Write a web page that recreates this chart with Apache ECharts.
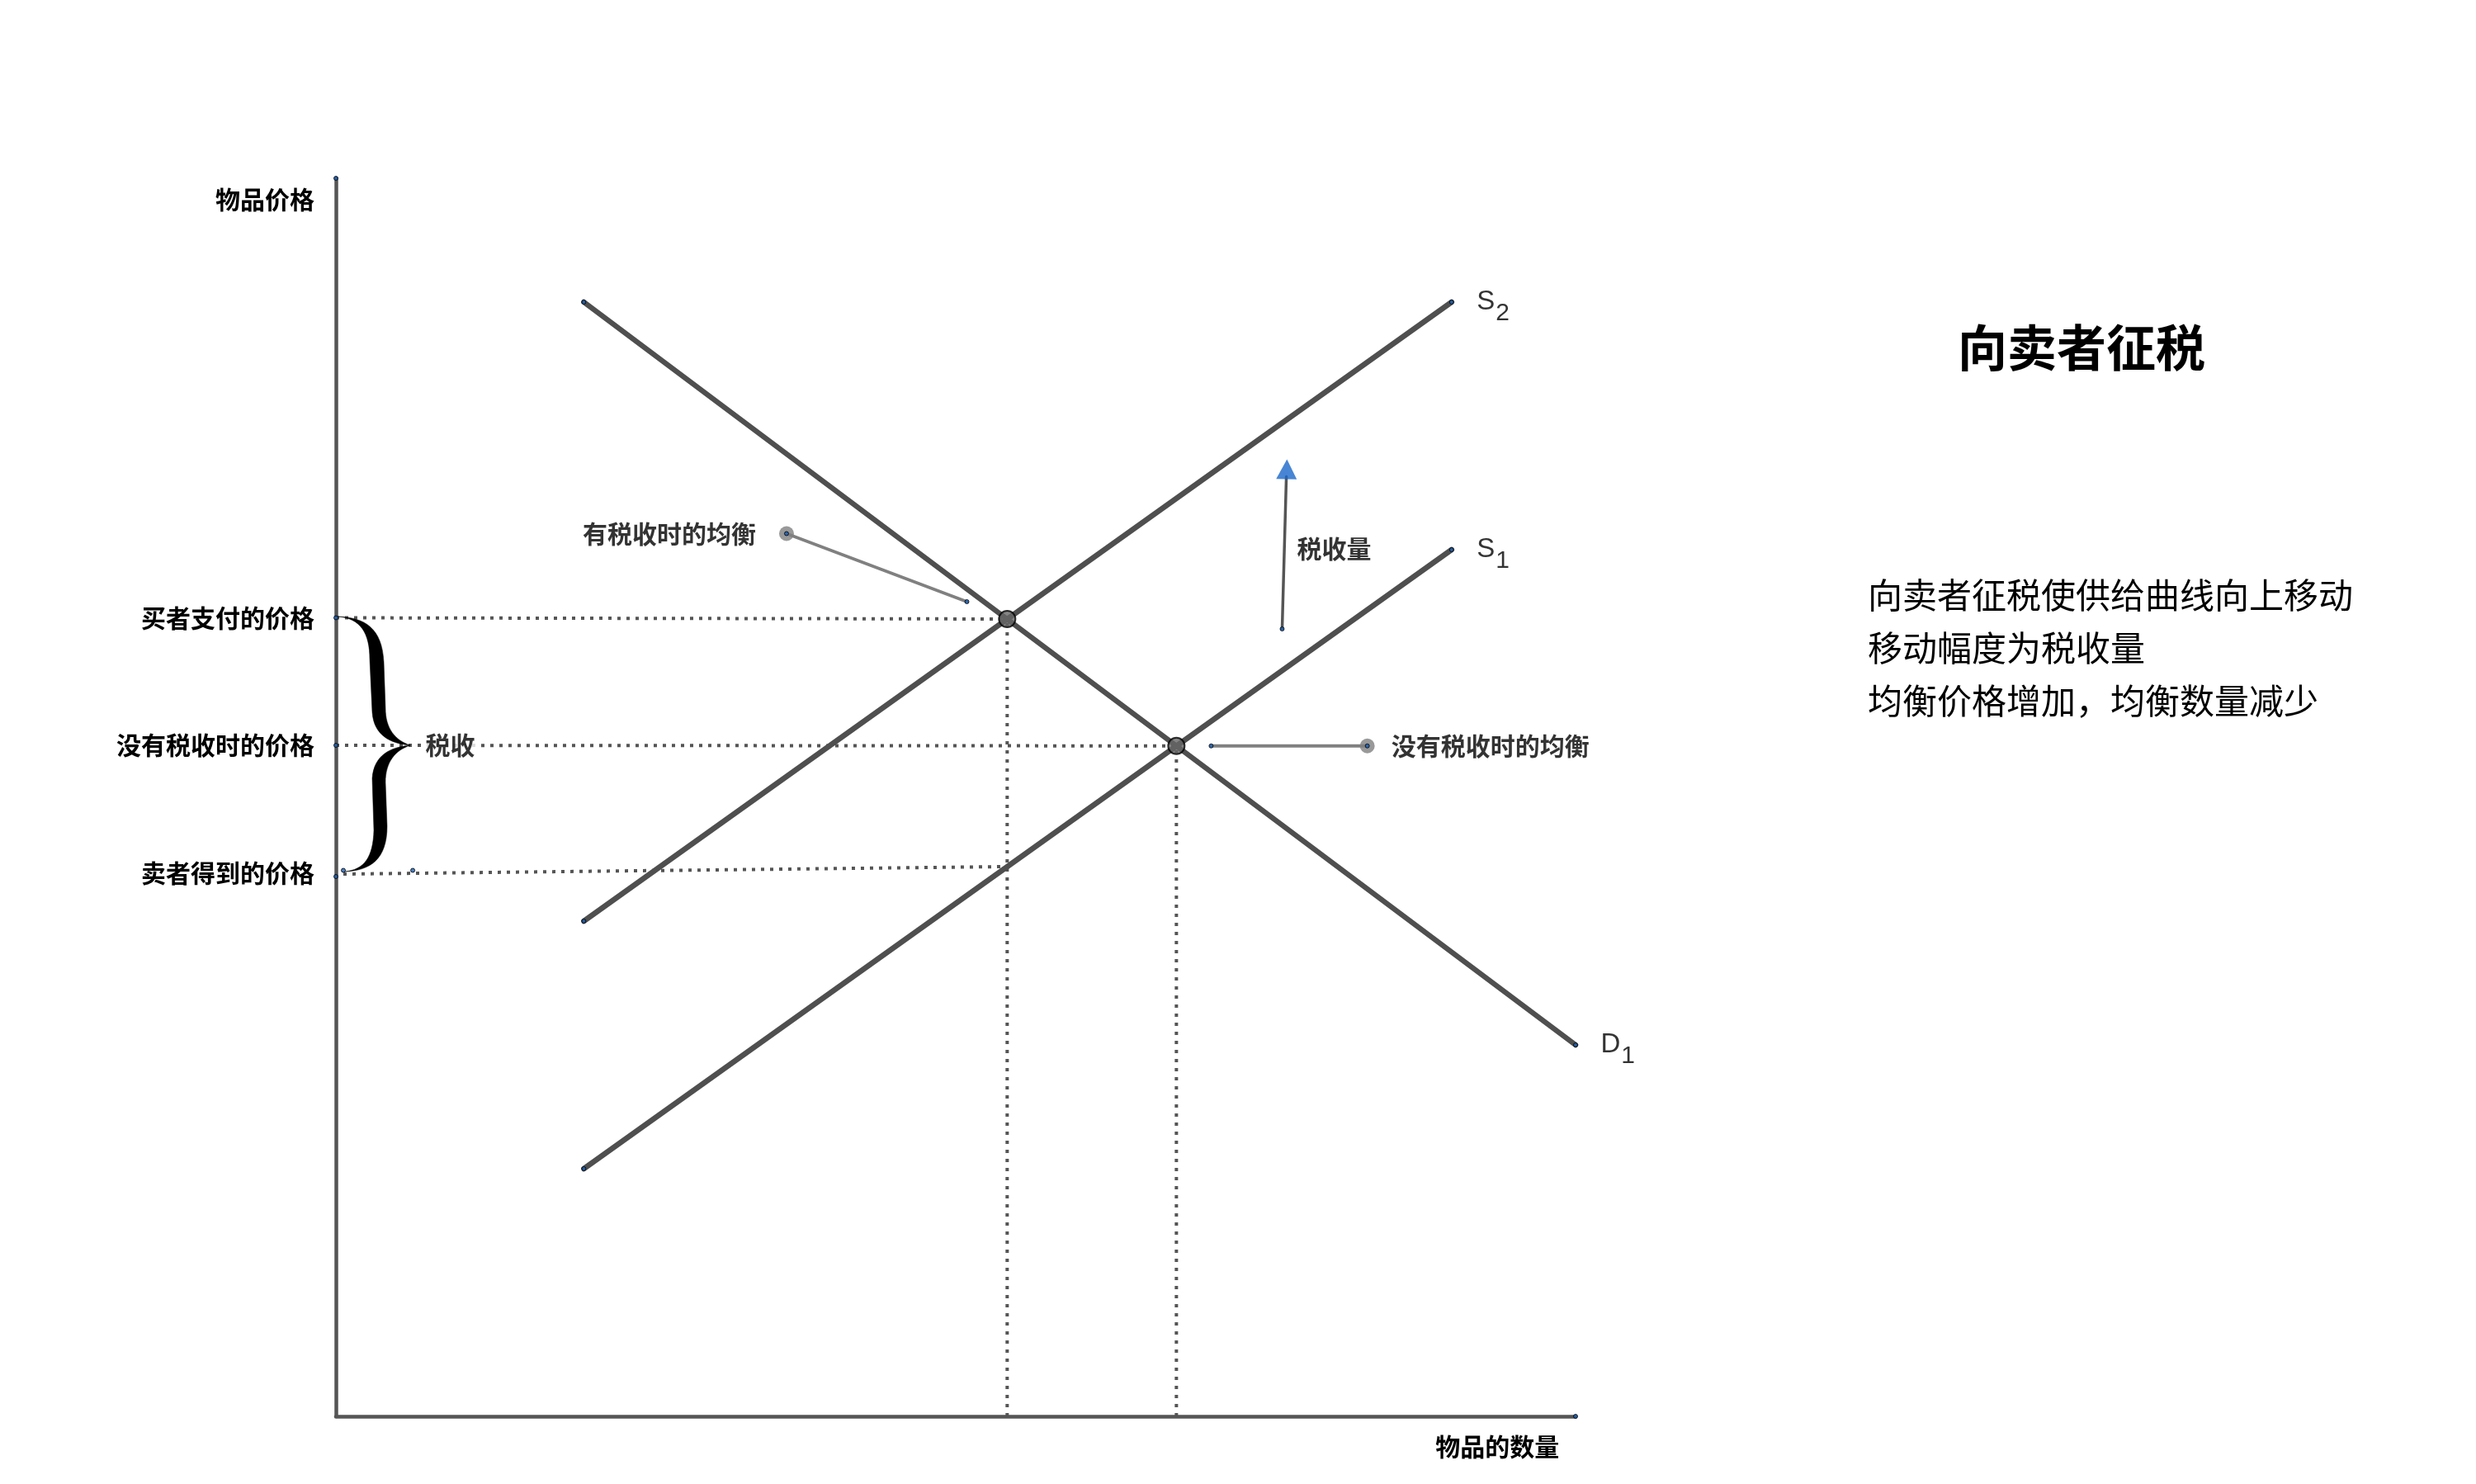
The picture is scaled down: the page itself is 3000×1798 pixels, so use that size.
<!DOCTYPE html>
<html>
<head>
<meta charset="utf-8">
<script src="https://cdn.jsdelivr.net/npm/echarts@6/dist/echarts.min.js"></script>
<style>html,body{margin:0;padding:0;background:#fff;}#c{width:3000px;height:1798px;}</style>
</head>
<body>
<div id="c"></div>
<script>
// ---- data (in chart units 0..100) ----
const demandD1 = [[20, 90], [100, 30]];
const supplyS1 = [[20, 20], [90, 70]];
const supplyS2 = [[20, 40], [90, 90]];
const eqWithTax = [54.15, 64.4];
const eqNoTax = [67.8, 54.15];
const priceTickValues = [64.5, 54.2, 43.9];
const priceTickLabels = ['买者支付的价格', '没有税收时的价格', '卖者得到的价格'];
const yAxisNameValue = 98.3;
const xAxisNameValue = 93.7;
const buyerDotted = [[0, 64.5], [54.15, 64.4]];
const noTaxDotted = [[0, 54.2], [67.8, 54.15]];
const sellerDotted = [[0.6, 43.8], [53.9, 44.4]];
const qTaxDotted = [[54.15, 0], [54.15, 64.4]];
const qNoTaxDotted = [[67.8, 0], [67.8, 54.15]];
const taxArrowShaft = [[76.33, 63.6], [76.67, 75.9]];
const taxArrowHead = [76.7, 76.5];
const taxEqCallout = [[36.35, 71.3], [50.9, 65.8]];
const noTaxEqCallout = [[70.6, 54.15], [83.2, 54.15]];
const brace = [[0, 64.6, 44.0, 6.0, 54.2]];
const endpointDots = [[20, 90], [100, 30], [20, 20], [90, 70], [20, 40], [90, 90],
  [0, 100], [100, 0], [76.33, 63.6], [50.9, 65.8], [70.6, 54.15], [36.35, 71.3], [83.2, 54.15],
  [0, 64.5], [0, 54.2], [0, 43.6], [0.6, 44.1], [6.2, 44.1]];
const curveLabels = [
  {value: [90, 90], name: 'S2'},
  {value: [90, 70], name: 'S1'},
  {value: [100, 30], name: 'D1'}
];
const titleText = '向卖者征税';
const descLines = ['向卖者征税使供给曲线向上移动', '移动幅度为税收量', '均衡价格增加，均衡数量减少'];

const FONT = '"Noto Sans CJK SC", "Noto Sans", sans-serif';
const LINE = '#4f4f4f';
const DOT = '#555555';

function seg(name, data, color, width, dash, z) {
  return {
    name, type: 'line', data, symbol: 'none', silent: true, z: z || 2,
    lineStyle: {color, width, type: dash || 'solid', cap: dash ? 'butt' : 'round'}
  };
}

const chart = echarts.init(document.getElementById('c'), null, {renderer: 'canvas'});
const option = {
  backgroundColor: '#ffffff',
  animation: false,
  grid: {left: 407, top: 216, width: 1502, height: 1500, containLabel: false},
  xAxis: {
    type: 'value', min: 0, max: 100,
    splitLine: {show: false}, axisTick: {show: false},
    axisLine: {onZero: false, lineStyle: {color: '#555', width: 4.5}},
    axisLabel: {
      customValues: [xAxisNameValue], margin: 22,
      formatter: () => '物品的数量',
      fontFamily: FONT, fontSize: 30, fontWeight: 'bold', color: '#000'
    }
  },
  yAxis: {
    type: 'value', min: 0, max: 100,
    splitLine: {show: false}, axisTick: {show: false},
    axisLine: {onZero: false, lineStyle: {color: '#555', width: 4.5}},
    axisLabel: {
      customValues: [priceTickValues[2], priceTickValues[1], priceTickValues[0], yAxisNameValue],
      margin: 26,
      formatter: (v) => {
        if (Math.abs(v - yAxisNameValue) < 0.01) return '物品价格';
        const i = priceTickValues.findIndex(p => Math.abs(p - v) < 0.01);
        return i >= 0 ? priceTickLabels[i] : '';
      },
      fontFamily: FONT, fontSize: 30, fontWeight: 'bold', color: '#000'
    }
  },
  series: [
    seg('buyerDotted', buyerDotted, DOT, 4, [4, 7], 1),
    seg('noTaxDotted', noTaxDotted, DOT, 4, [4, 7], 1),
    seg('sellerDotted', sellerDotted, DOT, 4, [4, 7], 1),
    seg('qTaxDotted', qTaxDotted, DOT, 4, [4, 7], 1),
    seg('qNoTaxDotted', qNoTaxDotted, DOT, 4, [4, 7], 1),
    seg('D1', demandD1, LINE, 6.5),
    seg('S1', supplyS1, LINE, 6.5),
    seg('S2', supplyS2, LINE, 6.5),
    seg('taxArrow', taxArrowShaft, '#555', 3.5),
    seg('taxEqCallout', taxEqCallout, '#808080', 4),
    seg('noTaxEqCallout', noTaxEqCallout, '#808080', 4),
    {
      name: 'arrowHead', type: 'scatter', data: [taxArrowHead], symbol: 'triangle',
      symbolSize: [25, 24], symbolRotate: -1.5, itemStyle: {color: '#1a66c9'}, z: 5, silent: true
    },
    {
      name: 'brace', type: 'custom', data: brace, z: 4, silent: true,
      encode: {x: [0, 3], y: [1, 2, 4]},
      renderItem: function (params, api) {
        const t = api.coord([api.value(0), api.value(1)]);
        const b = api.coord([api.value(0), api.value(2)]);
        const m = api.coord([api.value(3), api.value(4)]);
        const x0 = t[0], yT = t[1], yB = b[1], xt = m[0], yM = m[1];
        const P = (dx, y) => (x0 + dx).toFixed(1) + ',' + y.toFixed(1);
        const d =
          'M' + P(2, yT) +
          ' C' + P(30, yT + 2) + ' ' + P(41, yT + 20) + ' ' + P(41, yT + 52) +
          ' L' + P(44, yM - 40) +
          ' C' + P(46, yM - 12) + ' ' + P(66, yM - 2) + ' ' + xt.toFixed(1) + ',' + yM.toFixed(1) +
          ' C' + P(72, yM - 6) + ' ' + P(60, yM - 20) + ' ' + P(60, yM - 45) +
          ' L' + P(58, yT + 55) +
          ' C' + P(56, yT + 14) + ' ' + P(35, yT + 1) + ' ' + P(2, yT) + ' Z' +
          ' M' + xt.toFixed(1) + ',' + yM.toFixed(1) +
          ' C' + P(66, yM + 2) + ' ' + P(46, yM + 12) + ' ' + P(44, yM + 40) +
          ' L' + P(46, yB - 50) +
          ' C' + P(45, yB - 18) + ' ' + P(35, yB - 2) + ' ' + P(10, yB) +
          ' C' + P(42, yB - 1) + ' ' + P(62, yB - 15) + ' ' + P(62, yB - 55) +
          ' L' + P(60, yM + 45) +
          ' C' + P(60, yM + 20) + ' ' + P(72, yM + 6) + ' ' + xt.toFixed(1) + ',' + yM.toFixed(1) + ' Z';
        return {type: 'path', shape: {pathData: d}, style: {fill: '#000', stroke: '#000', lineWidth: 0.5}};
      }
    },
    {
      name: 'calloutDots', type: 'scatter', silent: true, z: 6,
      data: [
        {value: taxEqCallout[0], label: {show: true, position: 'left', distance: 28, formatter: '有税收时的均衡'}},
        {value: noTaxEqCallout[1], label: {show: true, position: 'right', distance: 20, formatter: '没有税收时的均衡'}}
      ],
      symbolSize: 18, itemStyle: {color: '#808080'},
      label: {fontFamily: FONT, fontSize: 30, fontWeight: 'bold', color: '#000'}
    },
    {
      name: 'textAnchors', type: 'scatter', silent: true, z: 3,
      symbolSize: 1, itemStyle: {color: 'rgba(0,0,0,0)'},
      label: {fontFamily: FONT, fontSize: 30, fontWeight: 'bold', color: '#000'},
      data: [
        {value: [6.0, 54.2], label: {show: true, position: 'right', distance: 14, formatter: '税收',
          backgroundColor: '#fff', padding: [4, 4, 4, 4]}},
        {value: [76.5, 70.1], label: {show: true, position: 'right', distance: 15, formatter: '税收量'}}
      ]
    },
    {
      name: 'curveNames', type: 'scatter', silent: true, z: 3,
      symbolSize: 1, itemStyle: {color: 'rgba(0,0,0,0)'},
      data: curveLabels.map(c => ({value: c.value, name: c.name})),
      label: {
        show: true, position: 'right', distance: 30,
        formatter: (p) => '{s|' + p.name.charAt(0) + '}{b|' + p.name.charAt(1) + '}',
        rich: {
          s: {fontFamily: 'Liberation Sans, Arial, sans-serif', fontSize: 33, lineHeight: 33, verticalAlign: 'top', color: '#000'},
          b: {fontFamily: 'Liberation Sans, Arial, sans-serif', fontSize: 30, lineHeight: 30, padding: [15, 0, 0, 1], verticalAlign: 'top', color: '#000'}
        }
      }
    },
    {
      name: 'equilibria', type: 'scatter', silent: true, z: 7,
      data: [eqWithTax, eqNoTax], symbolSize: 20,
      itemStyle: {color: '#666666', borderColor: '#000', borderWidth: 2}
    },
    {
      name: 'pointDots', type: 'scatter', silent: true, z: 8,
      data: endpointDots, symbolSize: 5,
      itemStyle: {color: '#1a5fb4', borderColor: '#000', borderWidth: 1}
    }
  ],
  graphic: [
    {type: 'text', x: 2522, y: 421, z: 10,
      style: {text: titleText, font: 'bold 60px ' + FONT, fill: '#000', align: 'center', verticalAlign: 'middle'}},
    {type: 'text', x: 2263, y: 689, z: 10,
      style: {text: descLines.join('\n'), font: '42px ' + FONT, lineHeight: 64, fill: '#000', align: 'left', verticalAlign: 'top'}}
  ]
};
chart.setOption(option);
</script>
</body>
</html>
